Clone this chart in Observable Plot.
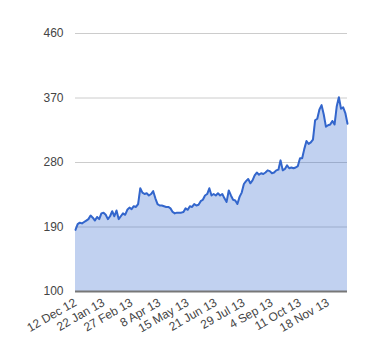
<!DOCTYPE html>
<html><head><meta charset="utf-8">
<script src="https://cdn.jsdelivr.net/npm/d3@7"></script>
<script src="https://cdn.jsdelivr.net/npm/@observablehq/plot@0.6"></script>
<style>body{margin:0;background:#fff}</style>
</head><body><div id="chart"></div>
<script>
const values = [186,194,196,195,197,199,201,206,203,199,204,201,209,210,207,201,205,212,205,213,
201,205,209,207,214,217,215,219,218,222,244,238,236,237,234,236,240,230,222,220,
220,219,218,218,216,211,209,210,210,210,211,216,214,219,218,222,220,221,226,228,
234,236,244,234,236,234,237,234,236,230,225,241,234,228,227,222,232,238,250,254,
257,251,255,262,266,263,265,264,266,269,268,265,266,269,270,283,269,271,276,272,
273,272,273,275,286,286,299,310,306,308,312,339,341,354,360,347,330,332,333,338,
333,358,371,355,357,349,334];
const tickLabels = ["12 Dec 12","22 Jan 13","27 Feb 13","8 Apr 13","15 May 13","21 Jun 13","29 Jul 13","4 Sep 13","11 Oct 13","18 Nov 13"];
const yTicks = [100,190,280,370,460];
const step = 13;
const data = values.map((v,i)=>({i, v}));
const chart = Plot.plot({
  width: 380, height: 360,
  marginTop: 33, marginBottom: 69, marginLeft: 75, marginRight: 33,
  style: {fontFamily: "Arial, 'Liberation Sans', sans-serif", fontSize: "12px", color: "#444", background: "#fff"},
  x: {domain: [0, values.length-1]},
  y: {domain: [100, 460]},
  marks: [
    Plot.ruleY(yTicks.slice(1), {stroke: "#ccc", strokeWidth: 1, strokeOpacity: 1}),
    Plot.areaY(data, {x: "i", y1: 100, y2: "v", fill: "#3366cc", fillOpacity: 0.3}),
    Plot.lineY(data, {x: "i", y: "v", stroke: "#3366cc", strokeWidth: 2}),
    Plot.ruleY([100], {stroke: "#777", strokeWidth: 2, strokeOpacity: 1}),
    Plot.axisY({ticks: yTicks, tickSize: 0, tickPadding: 12, fontSize: 12, label: null}),
    Plot.axisX({ticks: tickLabels.map((_, k) => k * step), tickFormat: d => tickLabels[d / step], tickSize: 0, tickRotate: -30, tickPadding: 10, fontSize: 12, label: null})
  ]
});
document.getElementById("chart").append(chart);
</script>
</body></html>
